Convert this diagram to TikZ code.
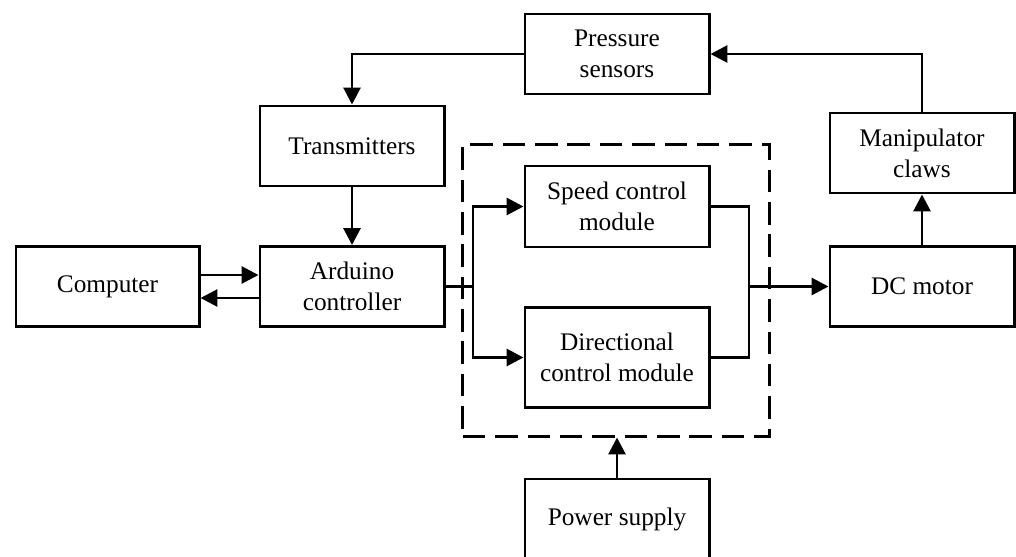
\documentclass[tikz,border=0pt]{standalone}
\usepackage{fontspec}
\setmainfont{Liberation Serif}
\usetikzlibrary{arrows.meta}
\begin{document}
\begin{tikzpicture}[x=0.025cm,y=-0.025cm,
  blk/.style={draw,line width=2.1pt,minimum width=4.6cm,minimum height=2cm,inner sep=0pt,align=center,font=\fontsize{18}{22}\selectfont},
  grp/.style={draw,line width=2.1pt,dash pattern=on 16pt off 7pt,minimum width=7.65cm,minimum height=7.275cm,inner sep=0pt},
  ln/.style={line width=2.1pt},
  arr/.style={ln,-{Triangle[length=0.42cm,width=0.42cm]}}]
\useasboundingbox (0,0) rectangle (1016,557);
\clip (0,0) rectangle (1016,557);
\node[grp] (group) at (616,290.5) {};
\node[blk] (pressure) at (617,54) {Pressure\\sensors};
\node[blk] (trans) at (352,146) {Transmitters};
\node[blk] (manip) at (922,153) {Manipulator\\claws};
\node[blk,minimum width=4.575cm] (comp) at (107.5,286.5) {Computer};
\node[blk] (ard) at (352,286.5) {Arduino\\controller};
\node[blk,minimum height=2.025cm] (speed) at (617,206.5) {Speed control\\module};
\node[blk,minimum height=2.5cm] (dir) at (617,357.5) {Directional\\control module};
\node[blk] (dc) at (922,286.5) {DC motor};
\node[blk] (power) at (617,519) {Power supply};
\coordinate (split) at (473,286.5);
\coordinate (join) at (749,286.5);
\draw[arr] (pressure.west) -| (trans.north);
\draw[arr] (manip.north) |- (pressure.east);
\draw[arr] (trans.south) -- (ard.north);
\draw[arr] ([yshift=0.2875cm]comp.east) -- ([yshift=0.2875cm]ard.west);
\draw[arr] ([yshift=-0.2875cm]ard.west) -- ([yshift=-0.2875cm]comp.east);
\draw[ln] (ard.east) -- (split);
\draw[arr] (split) |- (speed.west);
\draw[arr] (split) |- (dir.west);
\draw[ln] (speed.east) -| (join);
\draw[ln] (dir.east) -| (join);
\draw[arr] (join) -- (dc.west);
\draw[arr] (dc.north) -- (manip.south);
\draw[arr] (power.north) -- (power.north |- group.south);
\end{tikzpicture}
\end{document}
